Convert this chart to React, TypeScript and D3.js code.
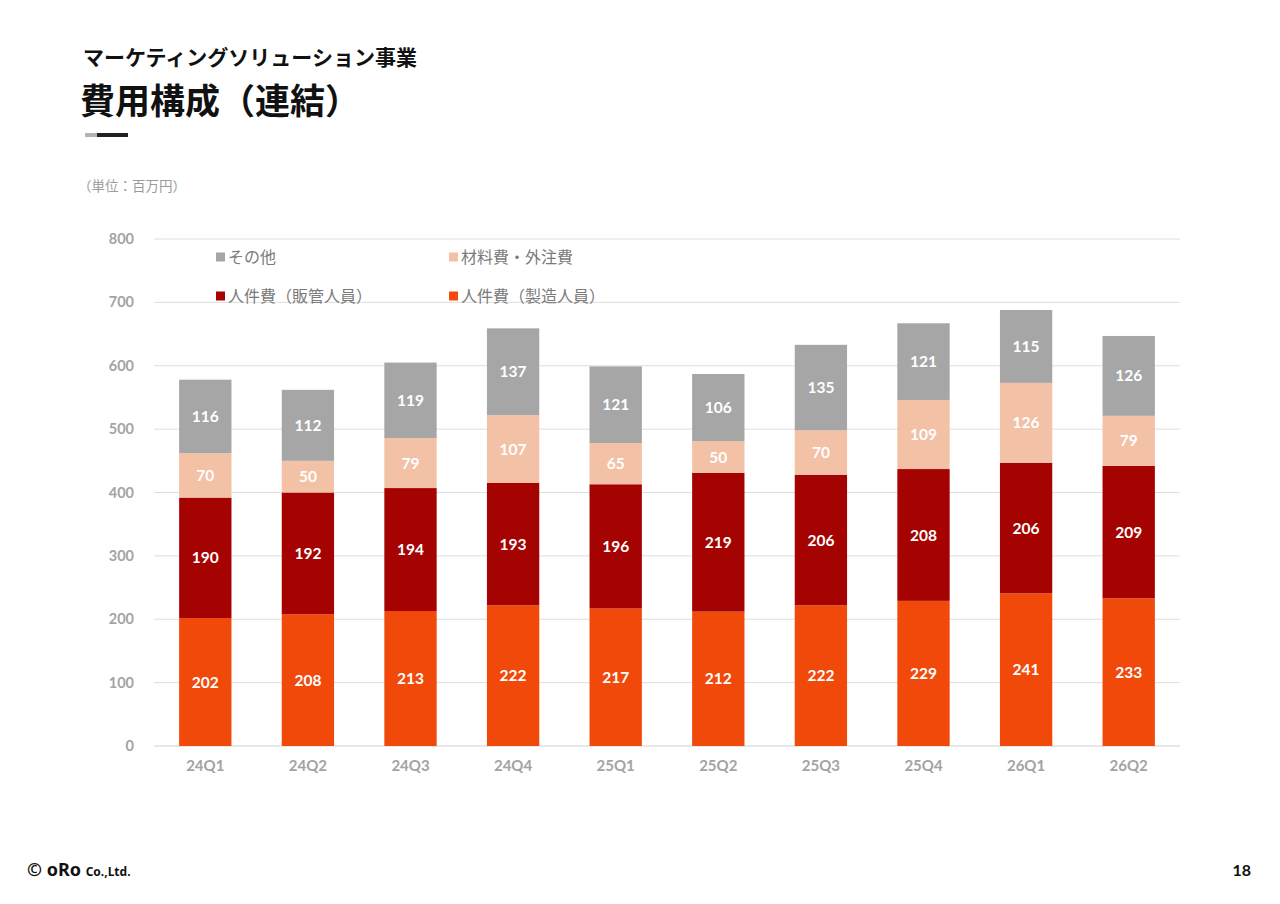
import * as d3 from "d3";
import { useEffect, useRef } from "react";

const quarters = ["24Q1", "24Q2", "24Q3", "24Q4", "25Q1", "25Q2", "25Q3", "25Q4", "26Q1", "26Q2"];
const seriesNames = ["人件費（製造人員）", "人件費（販管人員）", "材料費・外注費", "その他"];
const laborManufacturing = [202, 208, 213, 222, 217, 212, 222, 229, 241, 233];
const laborSales = [190, 192, 194, 193, 196, 219, 206, 208, 206, 209];
const materials = [70, 50, 79, 107, 65, 50, 70, 109, 126, 79];
const others = [116, 112, 119, 137, 121, 106, 135, 121, 115, 126];
const yTicks = [0, 100, 200, 300, 400, 500, 600, 700, 800];

const colors = ["#F0490A", "#A50202", "#F3C1A6", "#A6A6A6"];
const numFont = "Lato, 'DejaVu Sans', sans-serif";
const jpFont = "'Noto Sans CJK JP', sans-serif";

export default function App() {
    const ref = useRef<SVGSVGElement | null>(null);

    useEffect(() => {
        if (!ref.current) return;
        const svg = d3.select(ref.current);
        svg.selectAll("*").remove();

        const width = 1280;
        const height = 904;
        const margin = { top: 239, right: 100, bottom: 158, left: 154 };

        const table = quarters.map((q, i) => ({
            q,
            s0: laborManufacturing[i],
            s1: laborSales[i],
            s2: materials[i],
            s3: others[i],
        }));
        const keys = ["s0", "s1", "s2", "s3"];

        const x = d3.scaleBand()
            .domain(quarters)
            .range([margin.left, width - margin.right])
            .paddingInner(0.49)
            .paddingOuter(0.245);

        const y = d3.scaleLinear()
            .domain([0, 800])
            .range([height - margin.bottom, margin.top]);

        // titles
        svg.append("text")
            .attr("x", 83).attr("y", 65)
            .attr("font-family", jpFont).attr("font-weight", 700)
            .attr("font-size", 21).attr("fill", "#111")
            .text("マーケティングソリューション事業");
        svg.append("text")
            .attr("x", 80).attr("y", 114)
            .attr("font-family", jpFont).attr("font-weight", 700)
            .attr("font-size", 35).attr("fill", "#111")
            .text("費用構成（連結）");
        svg.append("rect").attr("x", 85).attr("y", 133).attr("width", 12).attr("height", 4).attr("fill", "#b3b3b3");
        svg.append("rect").attr("x", 97).attr("y", 133).attr("width", 31).attr("height", 4).attr("fill", "#222");
        svg.append("text")
            .attr("x", 78).attr("y", 191)
            .attr("font-family", jpFont).attr("font-size", 13.5).attr("fill", "#9a9a9a")
            .text("（単位：百万円）");

        // grid + y axis
        const grid = svg.append("g");
        grid.selectAll("line")
            .data(yTicks)
            .join("line")
            .attr("x1", margin.left).attr("x2", width - margin.right)
            .attr("y1", (d) => y(d)).attr("y2", (d) => y(d))
            .attr("stroke", (d) => (d === 0 ? "#d0d0d0" : "#dedede"))
            .attr("stroke-width", 1);
        grid.selectAll("text")
            .data(yTicks)
            .join("text")
            .attr("x", 134).attr("y", (d) => y(d))
            .attr("dy", "0.35em").attr("text-anchor", "end")
            .attr("font-family", numFont).attr("font-weight", 700)
            .attr("font-size", 14.5).attr("fill", "#a3a3a3")
            .text((d) => d);

        // x labels
        svg.append("g")
            .selectAll("text")
            .data(quarters)
            .join("text")
            .attr("x", (d) => x(d)! + x.bandwidth() / 2)
            .attr("y", 771)
            .attr("text-anchor", "middle")
            .attr("font-family", numFont).attr("font-weight", 700)
            .attr("font-size", 15).attr("fill", "#a3a3a3")
            .text((d) => d);

        // stacked bars
        const stacked = d3.stack<any>().keys(keys)(table);
        const layers = svg.append("g")
            .selectAll("g")
            .data(stacked)
            .join("g")
            .attr("fill", (_, i) => colors[i]);
        layers.selectAll("rect")
            .data((d) => d)
            .join("rect")
            .attr("x", (d) => x(d.data.q)!)
            .attr("width", x.bandwidth())
            .attr("y", (d) => y(d[1]))
            .attr("height", (d) => y(d[0]) - y(d[1]));
        layers.selectAll("text")
            .data((d) => d.map((p) => ({ p, key: d.key })))
            .join("text")
            .attr("x", (d) => x(d.p.data.q)! + x.bandwidth() / 2)
            .attr("y", (d) => y((d.p[0] + d.p[1]) / 2))
            .attr("dy", "0.36em")
            .attr("text-anchor", "middle")
            .attr("font-family", numFont).attr("font-weight", 700)
            .attr("font-size", 15.5).attr("fill", "#fff")
            .text((d) => d.p.data[d.key]);

        // legend
        const legendItems = [
            { name: seriesNames[3], color: colors[3], lx: 216, ly: 257 },
            { name: seriesNames[2], color: colors[2], lx: 449, ly: 257 },
            { name: seriesNames[1], color: colors[1], lx: 216, ly: 296 },
            { name: seriesNames[0], color: colors[0], lx: 449, ly: 296 },
        ];
        const lg = svg.append("g")
            .selectAll("g")
            .data(legendItems)
            .join("g")
            .attr("transform", (d) => `translate(${d.lx},${d.ly})`);
        lg.append("rect").attr("x", 0).attr("y", -4.5).attr("width", 9).attr("height", 9).attr("fill", (d) => d.color);
        lg.append("text")
            .attr("x", 12).attr("dy", "0.36em")
            .attr("font-family", jpFont).attr("font-size", 16).attr("fill", "#7a7a7a")
            .text((d) => d.name);

        // footer
        const foot = svg.append("text")
            .attr("x", 27).attr("y", 876)
            .attr("font-family", "'Noto Sans', sans-serif").attr("font-weight", 700)
            .attr("fill", "#111");
        foot.append("tspan").attr("font-size", 18).text("© oRo ");
        foot.append("tspan").attr("font-size", 12).text("Co.,Ltd.");
        svg.append("text")
            .attr("x", 1251).attr("y", 876).attr("text-anchor", "end")
            .attr("font-family", numFont).attr("font-weight", 700)
            .attr("font-size", 16).attr("fill", "#111")
            .text("18");
    }, []);

    return (
        <svg
            ref={ref}
            width={1280}
            height={904}
            style={{ position: "absolute", left: 0, top: 0, background: "#fff" }}
        />
    );
}
